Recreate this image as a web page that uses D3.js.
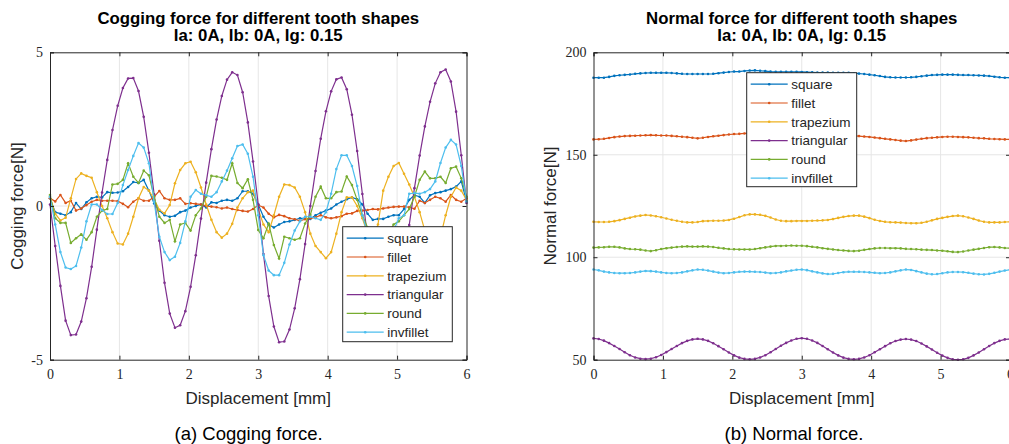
<!DOCTYPE html>
<html>
<head>
<meta charset="utf-8">
<script src="https://cdn.jsdelivr.net/npm/d3@7/dist/d3.min.js"></script>
<style>
  body { margin: 0; background: #fff; }
  svg { display: block; }
</style>
</head>
<body>
<div id="chart-area"></div>
<script>
const width = 1009;
const height = 444;

// displacement [mm], same grid for both panels
const displacement = [
  0, 0.075, 0.15, 0.225, 0.3, 0.375, 0.45, 0.525, 0.6, 0.675,
  0.75, 0.825, 0.9, 0.975, 1.05, 1.125, 1.2, 1.275, 1.35, 1.425,
  1.5, 1.575, 1.65, 1.725, 1.8, 1.875, 1.95, 2.025, 2.1, 2.175,
  2.25, 2.325, 2.4, 2.475, 2.55, 2.625, 2.7, 2.775, 2.85, 2.925,
  3, 3.075, 3.15, 3.225, 3.3, 3.375, 3.45, 3.525, 3.6, 3.675,
  3.75, 3.825, 3.9, 3.975, 4.05, 4.125, 4.2, 4.275, 4.35, 4.425,
  4.5, 4.575, 4.65, 4.725, 4.8, 4.875, 4.95, 5.025, 5.1, 5.175,
  5.25, 5.325, 5.4, 5.475, 5.55, 5.625, 5.7, 5.775, 5.85, 5.925, 6
];

const shapeNames = ["square", "fillet", "trapezium", "triangular", "round", "invfillet"];
const shapeColors = ["#0072bd", "#d95319", "#edb120", "#7e2f8e", "#77ac30", "#4dbeee"];

// cogging force [N]
const coggingSquare = [
  0.25, -0.2, -0.25, -0.3, -0.2, 0.1, -0.1, 0.12, 0.25, 0.3,
  0.28, 0.45, 0.43, 0.44, 0.48, 0.62, 0.78, 0.75, 0.85, 0.5,
  0.08, -0.15, -0.3, -0.35, -0.32, -0.2, -0.15, -0.05, 0, 0.05,
  -0.05, 0.12, 0.1, 0.17, 0.2, 0.17, 0.25, 0.48, 0.48, 0.4,
  0.05, -0.35, -0.6, -0.7, -0.6, -0.52, -0.5, -0.45, -0.4, -0.4,
  -0.42, -0.3, -0.22, -0.15, -0.08, 0.05, 0.14, 0.22, 0.28, 0.22,
  0.05, -0.25, -0.45, -0.42, -0.42, -0.35, -0.3, -0.3, -0.1, 0.2,
  0.35, 0.3, 0.1, 0.35, 0.42, 0.45, 0.5, 0.55, 0.63, 0.8, 0.15
];
const coggingFillet = [
  0.25, 0.15, 0.36, 0.1, 0.17, -0.15, -0.08, 0.03, 0.14, 0.2,
  0.17, 0.17, 0.17, 0.16, 0.07, -0.04, 0.14, 0.25, 0.17, 0.17,
  0.3, 0.49, 0.25, 0.2, 0.2, 0.25, 0.07, 0.09, 0.07, 0.05,
  0, -0.02, -0.04, -0.08, -0.05, -0.1, -0.13, -0.16, -0.18, -0.1,
  0.03, -0.05, -0.25, -0.37, -0.29, -0.33, -0.4, -0.43, -0.48, -0.43,
  -0.4, -0.37, -0.3, -0.37, -0.4, -0.37, -0.33, -0.25, -0.24, -0.16,
  -0.15, -0.13, -0.1, -0.11, -0.08, -0.05, -0.03, -0.02, -0.02, -0.04,
  -0.09, 0.17, 0.1, 0.2, 0.3, 0.25, 0.14, 0.36, 0.2, 0.14, 0.25
];
const coggingTrapezium = [
  0.3, -0.25, -0.47, -0.38, 0.25, 0.88, 1.06, 0.98, 0.92, 0.45,
  0, -0.4, -0.85, -1.22, -1.25, -0.9, -0.35, 0.25, 0.62, 0.5,
  0.22, -0.12, -0.24, 0.03, 0.74, 1.17, 1.39, 1.44, 1.1, 0.6,
  0.05, -0.45, -0.85, -1.03, -0.9, -0.58, -0.05, 0.25, 0.45, 0.5,
  -0.1, -0.6, -0.85, -0.3, 0.3, 0.7, 0.68, 0.6, 0.3, -0.2,
  -0.9, -1.3, -1.5, -1.7, -1.5, -0.9, -0.2, 0.28, 0.28, 0,
  -0.4, -0.9, -1, -0.6, 0.5, 0.95, 1.3, 1.4, 1.05, 0.7,
  0.3, -0.2, -0.8, -1.3, -1.5, -1, -0.3, 0.3, 0.6, 0.5, 0.2
];
const coggingTriangular = [
  0.05, -1.3, -2.6, -3.73, -4.2, -4.18, -3.76, -3, -1.98, -0.77,
  0.44, 1.5, 2.47, 3.26, 3.84, 4.15, 4.16, 3.74, 2.9, 1.73,
  0.38, -1.13, -2.5, -3.5, -3.96, -3.88, -3.42, -2.63, -1.6, -0.41,
  0.76, 1.85, 2.81, 3.58, 4.11, 4.35, 4.26, 3.7, 2.72, 1.45,
  0.05, -1.56, -2.93, -3.92, -4.43, -4.41, -4.02, -3.33, -2.38, -1.24,
  0, 1.14, 2.19, 3.08, 3.73, 4.12, 4.18, 3.8, 2.97, 1.79,
  0.39, -1.06, -2.38, -3.4, -3.98, -4.08, -3.71, -2.96, -1.9, -0.62,
  0.58, 1.64, 2.59, 3.39, 3.99, 4.35, 4.44, 4.05, 3.07, 1.65, 0.1
];
const coggingRound = [
  0.36, -0.4, -0.55, -0.55, -1.2, -1.05, -0.92, -1.1, -0.85, -0.35,
  -0.15, -0.1, 0.7, 0.72, 0.85, 1.39, 0.95, 0.75, 1.15, 1,
  0.3, -0.35, -0.55, -0.45, -1.15, -0.6, -0.55, -0.8, -0.3, -0.08,
  0.3, 0.98, 0.96, 0.92, 0.85, 1.39, 0.75, 0.58, 0.87, 0.2,
  -0.78, -1.05, -0.57, -1.27, -1.71, -1, -1.05, -1.1, -1.05, -0.57,
  -0.29, 0.3, 0.63, 0.25, 0.25, 0.45, 0.47, 0.96, 0.68, 0.2,
  -0.3, -0.7, -0.9, -1, -0.8, -0.9, -0.6, -0.5, -0.3, -0.1,
  0.3, 0.85, 1.12, 0.9, 0.9, 0.95, 0.75, 1.23, 1.28, 0.9, 0.3
];
const coggingInvfillet = [
  0.3, -0.6, -1.5, -2, -2.05, -1.95, -1.35, -0.5, 0.05, 0.05,
  -0.13, -0.26, -0.26, 0.1, 0.68, 1.17, 1.63, 2.05, 1.9, 1.39,
  0.14, -1, -1.5, -1.76, -1.65, -1.2, -0.5, 0.3, 0.52, 0.4,
  0.35, 0.3, 0.45, 0.8, 1.15, 1.55, 1.95, 2, 1.7, 0.95,
  -0.3, -1.6, -2.1, -2.25, -2.25, -1.85, -1.25, -0.8, -0.5, -0.35,
  -0.35, -0.4, -0.45, -0.2, 0.4, 1.2, 1.65, 1.65, 1.3, 0.65,
  -0.3, -0.9, -1.3, -1.5, -1.5, -1.2, -0.8, -0.4, -0.3, 0.4,
  0.42, 0.4, 0.45, 0.55, 0.8, 1.4, 1.9, 2.15, 2, 1.3, 0.15
];

// normal force [N]
const normalSquare = [
  187.6, 187.6, 187.6, 188, 188.5, 188.8, 189, 189.2, 189.5, 189.7,
  189.9, 190, 190, 190, 190, 189.9, 189.7, 189.5, 189.4, 189.4,
  189.4, 189.4, 189.4, 189.5, 189.8, 190.1, 190.4, 190.6, 190.6, 190.9,
  191.1, 191.2, 191, 190.8, 190.6, 190.5, 190.5, 190.5, 190.5, 190.5,
  190.4, 190.3, 190.2, 190.1, 190.1, 190.1, 190, 190, 190, 190,
  189.8, 189.6, 189.4, 189.1, 188.8, 188.4, 188, 187.8, 187.7, 187.7,
  187.7, 187.8, 188, 188.3, 188.6, 188.9, 189, 189.1, 189.1, 189.1,
  189, 188.9, 188.9, 188.8, 188.7, 188.6, 188.4, 188.1, 187.8, 187.6, 187.6
];
const normalFillet = [
  157.5, 157.6, 157.8, 158.2, 158.6, 158.9, 159.1, 159.2, 159.3, 159.4,
  159.5, 159.6, 159.5, 159.4, 159.4, 159.2, 159, 158.8, 158.6, 158.3,
  158, 158.3, 158.7, 159, 159.3, 159.6, 159.9, 160.1, 160.2, 160.4,
  160.5, 160.5, 160.4, 160.3, 160.2, 160.1, 160, 159.9, 159.8, 159.7,
  159.6, 159.6, 159.5, 159.4, 159.4, 159.3, 159.3, 159.2, 159.2, 159.2,
  159.2, 159.1, 158.9, 158.7, 158.4, 158.1, 157.8, 157.5, 157.2, 156.9,
  156.7, 157, 157.4, 157.8, 158.1, 158.3, 158.5, 158.7, 158.8, 158.8,
  158.7, 158.6, 158.5, 158.3, 158.1, 158, 157.8, 157.7, 157.6, 157.5, 157.5
];
const normalTrapezium = [
  117.3, 117.2, 117.2, 117.3, 117.6, 118.1, 118.7, 119.3, 119.9, 120.3,
  120.6, 120.4, 120, 119.5, 118.9, 118.3, 117.8, 117.3, 117, 117,
  117.2, 117.6, 117.7, 117.8, 117.8, 117.9, 118.2, 118.8, 119.6, 120.5,
  120.9, 120.9, 120.7, 120.2, 119.4, 118.4, 117.8, 117.6, 117.6, 117.7,
  117.7, 117.7, 117.8, 117.9, 118, 118.2, 118.6, 119.2, 119.7, 120.1,
  120.3, 120.3, 119.8, 119.1, 118.3, 117.7, 117.3, 117.1, 117, 116.9,
  116.7, 116.6, 116.6, 116.8, 117.3, 118, 118.7, 119.2, 119.7, 120.1,
  120.3, 120, 119.4, 118.7, 117.9, 117.3, 117, 117, 117, 117.2, 117.3
];
const normalTriangular = [
  60.4, 60.1, 59.3, 58.1, 56.7, 55.2, 53.6, 52.2, 51.1, 50.5,
  50.3, 50.5, 51.2, 52.3, 53.7, 55.2, 56.7, 58.1, 59.2, 59.9,
  60.2, 59.9, 59.2, 58, 56.6, 55.1, 53.5, 52.1, 51, 50.4,
  50.2, 50.4, 51.1, 52.2, 53.6, 55.2, 56.8, 58.2, 59.4, 60.2,
  60.5, 60.2, 59.4, 58.2, 56.7, 55.1, 53.5, 52.1, 51, 50.4,
  50.2, 50.4, 51.1, 52.2, 53.6, 55.1, 56.6, 58, 59.1, 59.8,
  60.1, 59.8, 59.1, 57.9, 56.5, 55, 53.4, 52, 50.9, 50.2,
  50, 50.2, 50.9, 52.1, 53.5, 55.1, 56.7, 58.1, 59.2, 59.9, 60.1
];
const normalRound = [
  104.7, 104.8, 104.9, 105.1, 105.1, 104.8, 104.3, 104, 103.9, 103.7,
  103.3, 103, 103.4, 104, 104.4, 104.7, 105, 105.2, 105.3, 105.2,
  105.2, 105.3, 105.2, 105, 104.6, 104.3, 104, 103.9, 103.8, 103.8,
  103.8, 104, 104.4, 104.8, 105.2, 105.5, 105.5, 105.6, 105.7, 105.6,
  105.6, 105.4, 105.1, 104.8, 104.4, 104.1, 103.8, 103.5, 103.3, 103.1,
  103, 103.2, 103.6, 104, 104.3, 104.5, 104.5, 104.4, 104.4, 104.3,
  104.1, 104, 103.9, 103.7, 103.6, 103.5, 103.3, 103.2, 102.9, 102.6,
  102.5, 102.8, 103.3, 103.7, 104.1, 104.5, 104.9, 105, 104.8, 104.5, 104.4
];
const normalInvfillet = [
  94, 93.6, 93, 92.6, 92.3, 92.2, 92.2, 92.3, 92.6, 93,
  93.3, 93.2, 93, 92.6, 92.3, 92.2, 92.3, 92.6, 93.1, 93.6,
  94, 93.9, 93.5, 93, 92.5, 92.2, 92.3, 92.6, 92.9, 93,
  93, 92.9, 92.8, 92.5, 92.2, 92.3, 92.6, 93.1, 93.5, 93.9,
  94, 93.7, 93.1, 92.6, 92.1, 91.8, 91.9, 92.3, 92.7, 92.9,
  92.9, 92.9, 92.8, 92.6, 92.4, 92.2, 92.3, 92.6, 93.1, 93.6,
  94, 93.8, 93.2, 92.6, 92, 91.7, 91.8, 92.2, 92.6, 92.8,
  92.8, 92.7, 92.4, 92, 91.7, 91.6, 91.9, 92.4, 93, 93.5, 93.9
];

const xTicks = [0, 1, 2, 3, 4, 5, 6];
const coggingTicks = [-5, 0, 5];
const normalTicks = [50, 100, 150, 200];

const axisColor = "#262626";
const gridColor = "#e6e6e6";
const sansFont = "'Liberation Sans', Arial, sans-serif";
const serifFont = "'Liberation Serif', 'Times New Roman', serif";

const svg = d3.select("#chart-area")
    .append("svg")
    .attr("width", width)
    .attr("height", height)
    .style("background", "#fff");

function drawPanel(p) {
    const x = d3.scaleLinear().domain([0, 6]).range([p.left, p.right]);
    const y = d3.scaleLinear().domain(p.yDomain).range([p.bottom, p.top]);
    const g = svg.append("g");

    // grid
    g.append("g").selectAll("line")
        .data(xTicks.slice(1, -1))
        .enter().append("line")
        .attr("x1", d => x(d)).attr("x2", d => x(d))
        .attr("y1", p.top).attr("y2", p.bottom)
        .attr("stroke", gridColor).attr("stroke-width", 1);
    g.append("g").selectAll("line")
        .data(p.yTicks.slice(1, -1))
        .enter().append("line")
        .attr("x1", p.left).attr("x2", p.right)
        .attr("y1", d => y(d)).attr("y2", d => y(d))
        .attr("stroke", gridColor).attr("stroke-width", 1);

    // series
    const line = d3.line()
        .x((d, i) => x(displacement[i]))
        .y(d => y(d));
    p.series.forEach((s, k) => {
        g.append("path")
            .datum(s)
            .attr("fill", "none")
            .attr("stroke", shapeColors[k])
            .attr("stroke-width", 1.2)
            .attr("d", line);
        g.append("g").selectAll("circle")
            .data(s)
            .enter().append("circle")
            .attr("cx", (d, i) => x(displacement[i]))
            .attr("cy", d => y(d))
            .attr("r", 1.3)
            .attr("fill", shapeColors[k]);
    });

    // axes: ticks inward on all four sides
    const tl = 4;
    const bottomAxis = g.append("g")
        .attr("transform", `translate(0,${p.bottom})`)
        .call(d3.axisBottom(x).tickValues(xTicks).tickSize(-tl).tickPadding(9).tickFormat(d3.format("d")));
    const topAxis = g.append("g")
        .attr("transform", `translate(0,${p.top})`)
        .call(d3.axisTop(x).tickValues(xTicks).tickSize(-tl).tickFormat(""));
    const leftAxis = g.append("g")
        .attr("transform", `translate(${p.left},0)`)
        .call(d3.axisLeft(y).tickValues(p.yTicks).tickSize(-tl).tickPadding(7)
            .tickFormat(d => d < 0 ? "-" + Math.abs(d) : String(d)));
    const rightAxis = g.append("g")
        .attr("transform", `translate(${p.right},0)`)
        .call(d3.axisRight(y).tickValues(p.yTicks).tickSize(-tl).tickFormat(""));

    [bottomAxis, topAxis, leftAxis, rightAxis].forEach(a => {
        a.select(".domain").attr("stroke", axisColor).attr("stroke-width", 1);
        a.selectAll(".tick line").attr("stroke", axisColor).attr("stroke-width", 1);
        a.selectAll("text")
            .attr("fill", axisColor)
            .style("font-family", serifFont)
            .style("font-size", "14px");
    });

    // titles
    const cx = (p.left + p.right) / 2;
    g.append("text").attr("x", cx).attr("y", 24)
        .attr("text-anchor", "middle")
        .style("font-family", sansFont).style("font-size", "16.8px").style("font-weight", "bold")
        .attr("fill", "#000")
        .text(p.title);
    g.append("text").attr("x", cx).attr("y", 41)
        .attr("text-anchor", "middle")
        .style("font-family", sansFont).style("font-size", "16.8px").style("font-weight", "bold")
        .attr("fill", "#000")
        .text("Ia: 0A, Ib: 0A, Ig: 0.15");

    g.append("text").attr("x", cx).attr("y", 404)
        .attr("text-anchor", "middle")
        .style("font-family", sansFont).style("font-size", "17px")
        .attr("fill", axisColor)
        .text("Displacement [mm]");

    g.append("text")
        .attr("transform", `translate(${p.ylabelX},${(p.top + p.bottom) / 2}) rotate(-90)`)
        .attr("text-anchor", "middle")
        .style("font-family", sansFont).style("font-size", "17px")
        .attr("fill", axisColor)
        .text(p.ylabel);

    g.append("text").attr("x", p.captionX).attr("y", 440)
        .attr("text-anchor", "middle")
        .style("font-family", sansFont).style("font-size", "18.5px")
        .attr("fill", "#000")
        .text(p.caption);

    // legend
    const lg = g.append("g");
    lg.append("rect")
        .attr("x", p.legend.x).attr("y", p.legend.y)
        .attr("width", p.legend.w).attr("height", p.legend.h)
        .attr("fill", "#fff").attr("stroke", axisColor).attr("stroke-width", 1);
    shapeNames.forEach((name, k) => {
        const yy = p.legend.y + 11.5 + k * 18.8;
        lg.append("line")
            .attr("x1", p.legend.x + 4).attr("x2", p.legend.x + 41)
            .attr("y1", yy).attr("y2", yy)
            .attr("stroke", shapeColors[k]).attr("stroke-width", 1.2);
        lg.append("circle")
            .attr("cx", p.legend.x + 22.5).attr("cy", yy).attr("r", 1.3)
            .attr("fill", shapeColors[k]);
        lg.append("text")
            .attr("x", p.legend.x + 44.5).attr("y", yy + 4.8)
            .style("font-family", sansFont).style("font-size", "13.5px")
            .attr("fill", axisColor)
            .text(name);
    });
}

drawPanel({
    left: 50, right: 466.5, top: 52.3, bottom: 359.7,
    yDomain: [-5, 5], yTicks: coggingTicks,
    series: [coggingSquare, coggingFillet, coggingTrapezium, coggingTriangular, coggingRound, coggingInvfillet],
    title: "Cogging force for different tooth shapes",
    ylabel: "Cogging force[N]", ylabelX: 23,
    caption: "(a) Cogging force.", captionX: 248.6,
    legend: { x: 342.7, y: 226.7, w: 109.6, h: 115 }
});

drawPanel({
    left: 593.5, right: 1010, top: 52.3, bottom: 359.7,
    yDomain: [50, 200], yTicks: normalTicks,
    series: [normalSquare, normalFillet, normalTrapezium, normalTriangular, normalRound, normalInvfillet],
    title: "Normal force for different tooth shapes",
    ylabel: "Normal force[N]", ylabelX: 556,
    caption: "(b) Normal force.", captionX: 794,
    legend: { x: 746.7, y: 72.7, w: 110, h: 114 }
});
</script>
</body>
</html>
